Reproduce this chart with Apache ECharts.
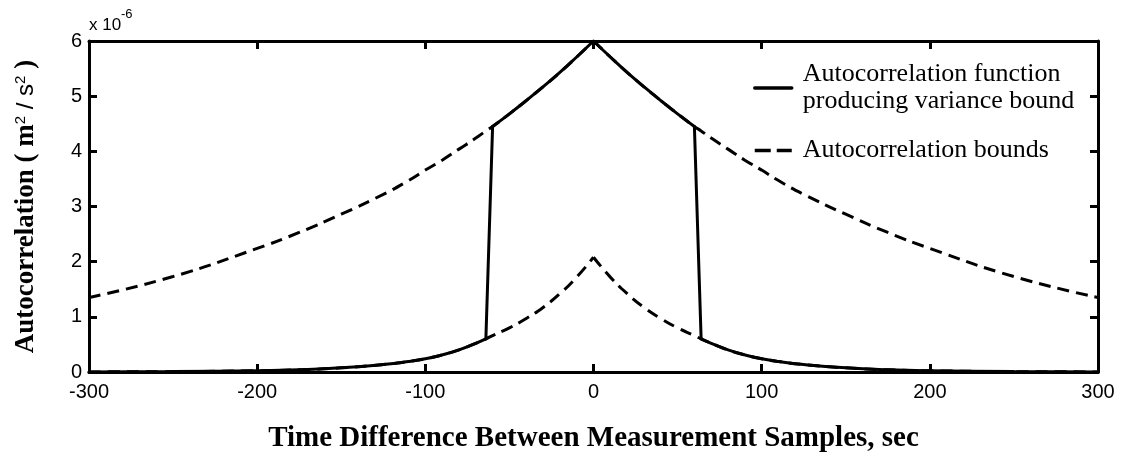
<!DOCTYPE html>
<html><head><meta charset="utf-8">
<script src="https://cdn.jsdelivr.net/npm/echarts@6/dist/echarts.min.js"></script>
<style>html,body{margin:0;padding:0;background:#fff}#c{width:1124px;height:458px}</style>
</head><body><div id="c"></div>
<script>
// time lag (sec)
const timeLags = [-300,-250,-200,-175,-150,-125,-110,-100,-90,-80,-70,-64,-60,-50,-40,-30,-20,-10,0,10,20,30,40,50,60,64,70,80,90,100,110,125,150,175,200,250,300];
// autocorrelation bounds (x 1e-6 m^2/s^2)
const upperBound = [1.35,1.73,2.24,2.53,2.86,3.22,3.47,3.66,3.84,4.04,4.24,4.37,4.45,4.68,4.92,5.17,5.43,5.71,6.00,5.71,5.43,5.17,4.92,4.68,4.45,4.37,4.24,4.04,3.84,3.66,3.47,3.22,2.86,2.53,2.24,1.73,1.35];
const lowerBound = [0.002,0.007,0.022,0.04,0.075,0.135,0.19,0.24,0.31,0.40,0.52,0.60,0.66,0.80,0.97,1.17,1.42,1.72,2.08,1.72,1.42,1.17,0.97,0.80,0.66,0.60,0.52,0.40,0.31,0.24,0.19,0.135,0.075,0.04,0.022,0.007,0.002];
// the variance-bound function follows the upper bound within |t| <= switchInner, the lower bound for |t| >= switchOuter
const switchInner = 60;
const switchOuter = 64;
const xTicks = [-300,-200,-100,0,100,200,300];
const yTicks = [0,1,2,3,4,5,6];

const nameSolid = 'Autocorrelation function\nproducing variance bound';
const nameDash = 'Autocorrelation bounds';

function pick(values, test){
  const out = [];
  timeLags.forEach((t,i)=>{ if (test(t)) out.push([t, values[i]]); });
  return out;
}
function at(values, t){ return [t, values[timeLags.indexOf(t)]]; }

const dashSegs = [
  pick(upperBound, t=>t<=0), pick(upperBound, t=>t>=0),
  pick(lowerBound, t=>t<=0), pick(lowerBound, t=>t>=0)
];
const solidSegs = [
  {d:pick(lowerBound, t=>t<=-switchOuter), s:true},
  {d:[at(lowerBound,-switchOuter), at(upperBound,-switchInner)], s:false},
  {d:pick(upperBound, t=>t>=-switchInner && t<=0), s:true},
  {d:pick(upperBound, t=>t>=0 && t<=switchInner), s:true},
  {d:[at(upperBound,switchInner), at(lowerBound,switchOuter)], s:false},
  {d:pick(lowerBound, t=>t>=switchOuter), s:true}
];

const chart = echarts.init(document.getElementById('c'), null, {renderer:'canvas'});
const axisLine = {show:true, onZero:false, lineStyle:{color:'#000', width:3}};
const tick = {show:true, inside:true, length:8, lineStyle:{color:'#000', width:3}};
const sans = 'Liberation Sans, Arial, sans-serif';
const serif = 'Liberation Serif, Times New Roman, serif';
const dashType = [12,7];

const series = [];
dashSegs.forEach(d=>series.push({name:nameDash, type:'line', data:d, symbol:'none', smooth:true, z:2,
  itemStyle:{color:'#000'}, lineStyle:{color:'#000', width:3, type:dashType}}));
solidSegs.forEach(o=>series.push({name:nameSolid, type:'line', data:o.d, symbol:'none', smooth:o.s, z:3,
  itemStyle:{color:'#000'}, lineStyle:{color:'#000', width:3, type:'solid', cap:'round'}}));

chart.setOption({
  animation:false,
  backgroundColor:'#fff',
  color:['#000'],
  grid:{left:89, right:26, top:41, bottom:86},
  legend:{
    orient:'vertical', left:753, top:61, padding:0, itemWidth:37, itemHeight:14, itemGap:22,
    data:[
      {name:nameSolid, lineStyle:{width:3.5}},
      {name:nameDash, lineStyle:{width:3.5, type:[16,6]}}
    ],
    itemStyle:{opacity:0},
    textStyle:{fontFamily:serif, fontSize:26, color:'#000', lineHeight:27, padding:[0,0,0,6]}
  },
  xAxis:[{
    type:'value', min:xTicks[0], max:xTicks[xTicks.length-1], interval:100, position:'bottom',
    axisLine, axisTick:tick, splitLine:{show:false},
    axisLabel:{fontFamily:sans, fontSize:20, color:'#000', margin:10},
    name:'Time Difference Between Measurement Samples, sec', nameLocation:'middle', nameGap:52,
    nameTextStyle:{fontFamily:serif, fontWeight:'bold', fontSize:29, color:'#000'}
  },{
    type:'value', min:xTicks[0], max:xTicks[xTicks.length-1], interval:100, position:'top',
    axisLine, axisTick:tick, axisLabel:{show:false}, splitLine:{show:false}
  }],
  yAxis:[{
    type:'value', min:yTicks[0], max:yTicks[yTicks.length-1], interval:1, position:'left',
    axisLine, axisTick:tick, splitLine:{show:false},
    axisLabel:{fontFamily:sans, fontSize:20, color:'#000', margin:7},
    name:'{b|Autocorrelation ( m}{s|2}{r| / s}{s|2}{b| )}', nameLocation:'middle', nameGap:49, nameRotate:90,
    nameTextStyle:{
      rich:{
        b:{fontFamily:serif, fontWeight:'bold', fontSize:27, color:'#000'},
        r:{fontFamily:sans, fontSize:24, color:'#000'},
        s:{fontFamily:sans, fontSize:15, color:'#000', verticalAlign:'top', padding:[0,0,12,0]}
      }
    }
  },{
    type:'value', min:yTicks[0], max:yTicks[yTicks.length-1], interval:1, position:'right',
    axisLine, axisTick:tick, axisLabel:{show:false}, splitLine:{show:false}
  }],
  graphic:[
    {type:'text', left:89, top:17, style:{text:'x 10', font:'17px '+sans, fill:'#000'}},
    {type:'text', left:121, top:8, style:{text:'-6', font:'13px '+sans, fill:'#000'}}
  ],
  series
});
</script></body></html>
